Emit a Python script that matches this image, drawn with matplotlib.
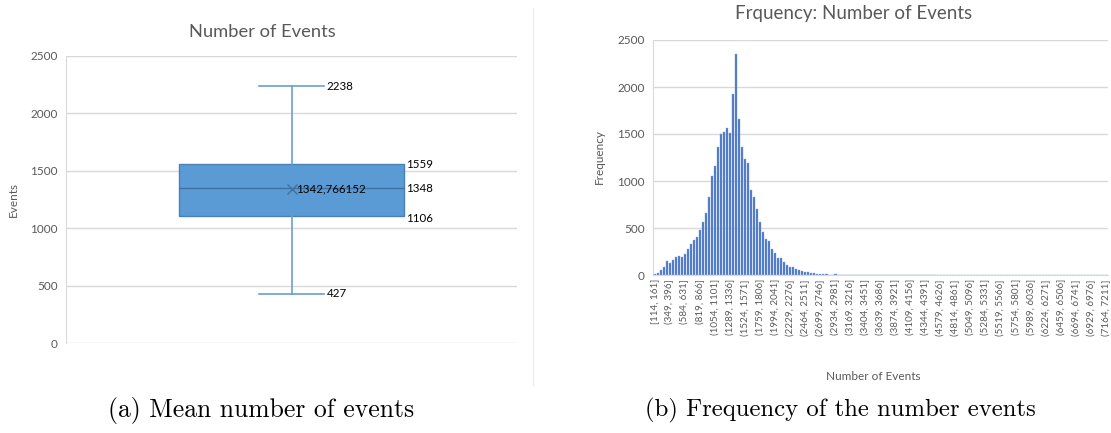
import matplotlib
matplotlib.use("Agg")
import matplotlib.pyplot as plt
from matplotlib.lines import Line2D
import numpy as np

# box plot summary of the number of events
q1 = 1106
median = 1348
q3 = 1559
whisker_low = 427
whisker_high = 2238
mean_events = 1342.766152

# histogram: 151 bins of width 47 starting at 114
bin_start = 114
bin_width = 47
n_bins = 151
freq_head = [10, 25, 53, 89, 152, 131, 163, 188, 202, 195,
             220, 273, 326, 372, 404, 479, 564, 663, 833, 1053,
             1163, 1362, 1500, 1521, 1564, 1510, 1925, 2351, 1660, 1358,
             1238, 1188, 904, 833, 702, 560, 457, 379, 358, 280,
             230, 184, 184, 142, 106, 89, 82, 67, 53, 43,
             32, 28, 25, 18, 14, 11, 14, 7, 4, 4,
             7, 2]
frequencies = freq_head + [0] * (n_bins - len(freq_head))

bin_labels = []
for i in range(n_bins):
    lo = bin_start + i * bin_width
    hi = lo + bin_width
    bin_labels.append(("[" if i == 0 else "(") + f"{lo}, {hi}]")

excel_font = ["Lato", "DejaVu Sans"]
grey_text = "#595959"
grid_grey = "#D9D9D9"

fig = plt.figure(figsize=(11.11, 4.33), dpi=100)
W, H = 1111, 433


def px_axes(left, top, right, bottom):
    return fig.add_axes([left / W, 1 - bottom / H, (right - left) / W, (bottom - top) / H])


# ---- left: box plot ----
ax1 = px_axes(66, 56, 517, 343)
stats = [{"med": median, "q1": q1, "q3": q3, "whislo": whisker_low,
          "whishi": whisker_high, "mean": mean_events, "fliers": []}]
box_w = 0.5
cap_w = 0.144
ax1.bxp(stats, positions=[0.5], widths=box_w, capwidths=[cap_w],
        patch_artist=True, showmeans=True, showfliers=False,
        boxprops=dict(facecolor="#5B9BD5", edgecolor="#4A80B8", linewidth=1.0),
        medianprops=dict(color="#41719C", linewidth=1.0),
        whiskerprops=dict(color="#6A9FD0", linewidth=1.2),
        capprops=dict(color="#6A9FD0", linewidth=1.2),
        meanprops=dict(marker="x", markeredgecolor="#41719C", markersize=7,
                       markeredgewidth=1.0))
ax1.set_xlim(0, 1)
ax1.set_ylim(0, 2500)
ax1.set_yticks(range(0, 2501, 500))
ax1.set_xticks([])
ax1.grid(axis="y", color=grid_grey, linewidth=1.0)
ax1.set_axisbelow(True)
for side in ["top", "right", "bottom"]:
    ax1.spines[side].set_visible(False)
ax1.spines["left"].set_color(grid_grey)
ax1.tick_params(axis="y", length=0, pad=6, labelsize=8.5, labelcolor=grey_text)
for lab in ax1.get_yticklabels():
    lab.set_family(excel_font)

cap_right = 0.5 + cap_w / 2
box_right = 0.5 + box_w / 2
label_kw = dict(fontsize=8.3, color="black", va="center", family=excel_font)
ax1.annotate(f"{whisker_high}", (cap_right, whisker_high), xytext=(2, 0),
             textcoords="offset points", **label_kw)
ax1.annotate(f"{whisker_low}", (cap_right, whisker_low), xytext=(2, 0),
             textcoords="offset points", **label_kw)
ax1.annotate(f"{q3}", (box_right, q3), xytext=(1, 0),
             textcoords="offset points", **label_kw)
ax1.annotate(f"{median}", (box_right, median), xytext=(1, 0),
             textcoords="offset points", **label_kw)
ax1.annotate(f"{q1}", (box_right, q1), xytext=(1, -2),
             textcoords="offset points", **label_kw)
ax1.annotate(f"{mean_events:.6f}".replace(".", ","), (0.5, mean_events),
             xytext=(3, 0), textcoords="offset points", **label_kw)

fig.text(262 / W, 1 - 32 / H, "Number of Events", ha="center", va="center",
         fontsize=13.2, color=grey_text, family=excel_font)
fig.text(13 / W, 1 - 199 / H, "Events", rotation=90, ha="center", va="center",
         fontsize=8.5, color=grey_text, family=excel_font)

# ---- right: histogram ----
ax2 = px_axes(653, 40, 1108, 275)
x = np.arange(n_bins)
ax2.bar(x, frequencies, width=0.78, color="#4472C4", edgecolor="#8FAADC",
        linewidth=0.3)
ax2.set_xlim(-0.6, n_bins - 0.4)
ax2.set_ylim(0, 2500)
ax2.set_yticks(range(0, 2501, 500))
ax2.set_xticks(x[::5])
ax2.set_xticklabels(bin_labels[::5], rotation=90, fontsize=7.1,
                    color=grey_text, family=excel_font)
ax2.grid(axis="y", color=grid_grey, linewidth=1.0)
ax2.set_axisbelow(True)
for side in ["top", "right"]:
    ax2.spines[side].set_visible(False)
ax2.spines["left"].set_color(grid_grey)
ax2.spines["bottom"].set_color(grid_grey)
ax2.tick_params(axis="y", length=0, pad=6, labelsize=8.5, labelcolor=grey_text)
ax2.tick_params(axis="x", length=0, pad=3)
for lab in ax2.get_yticklabels():
    lab.set_family(excel_font)

fig.text(854 / W, 1 - 14 / H, "Frquency: Number of Events", ha="center",
         va="center", fontsize=13.5, color=grey_text, family=excel_font)
fig.text(599 / W, 1 - 157 / H, "Frequency", rotation=90, ha="center",
         va="center", fontsize=8.5, color=grey_text, family=excel_font)
fig.text(873 / W, 1 - 376 / H, "Number of Events", ha="center", va="center",
         fontsize=8.5, color=grey_text, family=excel_font)

# thin divider between the two charts
fig.add_artist(Line2D([533 / W, 533 / W], [1 - 385 / H, 1 - 8 / H],
                      color="#EBEBEB", linewidth=0.8))

# sub-figure captions
fig.text(261 / W, 1 - 410 / H, "(a) Mean number of events", ha="center",
         va="center", fontsize=18.5, family="cmr10")
fig.text(840 / W, 1 - 410 / H, "(b) Frequency of the number events",
         ha="center", va="center", fontsize=17.8, family="cmr10")

fig.savefig("out.png", dpi=100, facecolor="white")
